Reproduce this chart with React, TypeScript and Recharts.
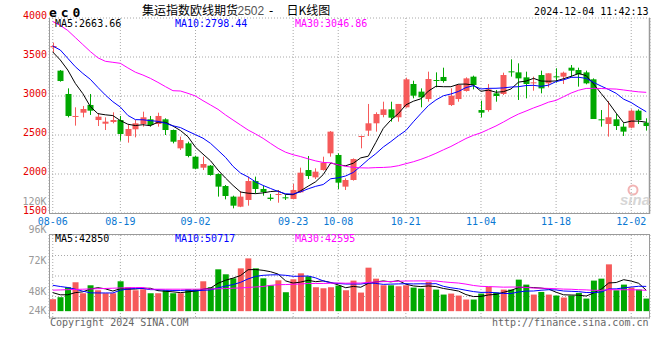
import React from 'react';
import { ComposedChart, Bar, Line, XAxis, YAxis, CartesianGrid, Cell } from 'recharts';

const dates = [
  '08-06','08-07','08-08','08-09','08-12','08-13','08-14','08-15','08-16','08-19','08-20','08-21','08-22','08-23','08-26','08-27','08-28','08-29','08-30',
  '09-02','09-03','09-04','09-05','09-06','09-09','09-10','09-11','09-12','09-13','09-18','09-19','09-20','09-23','09-24','09-25','09-26','09-27','09-30',
  '10-08','10-09','10-10','10-11','10-14','10-15','10-16','10-17','10-18','10-21','10-22','10-23','10-24','10-25','10-28','10-29','10-30','10-31',
  '11-01','11-04','11-05','11-06','11-07','11-08','11-11','11-12','11-13','11-14','11-15','11-18','11-19','11-20','11-21','11-22','11-25','11-26','11-27','11-28','11-29',
  '12-02','12-03','12-04',
];

const opens = [
  3624,3325,3026,2735,2786,2885,2692,2645,2667,2692,
  2487,2573,2641,2701,2641,2701,2564,2329,2393,2222,
  2081,2107,2000,1846,1710,1581,1667,1910,1808,1697,
  1731,1701,1680,1765,2051,1957,2051,2265,2244,1838,
  1923,2483,2556,2650,2757,2829,2727,2855,3154,3056,
  2961,3205,3244,2884,2961,3064,3248,2820,2820,3034,
  3026,3316,3303,3239,3171,3269,3162,3252,3248,3363,
  3333,3303,3214,2701,2641,2701,2607,2594,2812,2658,
];
const highs = [
  3684,3333,3098,2855,2872,3026,2778,2726,2791,2744,
  2628,2692,2799,2744,2786,2714,2570,2479,2414,2235,
  2222,2115,2009,1859,1722,1782,1966,1966,1850,1744,
  1795,1731,1872,2081,2231,2073,2222,2550,2265,1944,
  2200,2490,2898,2791,2927,2927,2898,3235,3196,3098,
  3312,3303,3363,3098,3150,3239,3261,2940,3154,3077,
  3299,3470,3419,3312,3248,3325,3291,3355,3312,3397,
  3363,3325,3226,2820,2936,2769,2650,2829,2829,2714,
];
const lows = [
  3555,3184,2726,2620,2726,2757,2615,2564,2650,2427,
  2402,2470,2607,2607,2607,2500,2393,2308,2214,2060,
  2051,1979,1710,1675,1560,1575,1594,1752,1722,1658,
  1632,1667,1675,1760,1936,1936,2043,2222,1808,1795,
  1915,2329,2487,2543,2727,2671,2671,2850,2970,2855,
  2927,3111,3171,2872,2927,3056,3085,2726,2799,2927,
  3013,3248,2949,2970,3068,3034,3111,3171,3154,3248,
  3120,3150,2705,2607,2479,2564,2487,2586,2641,2556,
];
const closes = [
  3641,3192,2744,2744,2833,2812,2735,2671,2692,2513,
  2577,2650,2727,2628,2744,2564,2414,2436,2231,2068,
  2128,1987,1838,1718,1594,1710,1910,1808,1769,1680,
  1744,1688,1795,2017,1974,2030,2145,2543,1889,1923,
  2192,2487,2650,2769,2829,2722,2898,3214,3004,2983,
  3218,3200,3192,3004,3141,3226,3141,2786,3085,3000,
  3269,3308,3226,3154,3175,3098,3291,3248,3299,3325,
  3278,3162,2705,2692,2727,2615,2543,2812,2692,2615,
];

const ma5 = [
  3564,3462,3333,3162,3031,2865,2774,2759,2749,2685,
  2638,2621,2632,2619,2665,2663,2615,2557,2478,2343,
  2255,2170,2050,1948,1853,1769,1754,1748,1758,1775,
  1782,1738,1735,1785,1844,1901,1992,2142,2116,2106,
  2138,2207,2228,2404,2585,2691,2774,2886,2933,2964,
  3063,3124,3119,3119,3151,3153,3141,3060,3076,3048,
  3056,3090,3178,3191,3226,3192,3189,3193,3222,3252,
  3288,3262,3154,3032,2913,2780,2656,2678,2678,2664,
];
const ma10 = [
  3641,3590,3483,3376,3290,3214,3111,3013,2927,2858,
  2751,2697,2695,2684,2675,2650,2618,2595,2548,2504,
  2459,2393,2304,2213,2098,2012,1962,1899,1853,1814,
  1776,1746,1742,1772,1810,1842,1865,1939,1951,1975,
  2020,2100,2185,2260,2346,2415,2490,2557,2669,2775,
  2877,2949,3003,3026,3058,3108,3132,3090,3098,3099,
  3104,3115,3119,3134,3137,3124,3139,3185,3207,3239,
  3240,3226,3174,3127,3083,3034,2959,2916,2855,2798,
];
const ma30 = [
  3955,3905,3840,3750,3660,3570,3490,3445,3432,3419,
  3360,3305,3269,3226,3175,3120,3068,3064,3034,3000,
  2940,2885,2829,2757,2692,2628,2564,2513,2457,2392,
  2329,2279,2247,2223,2194,2168,2148,2144,2117,2098,
  2085,2079,2077,2082,2084,2090,2106,2132,2157,2188,
  2224,2265,2310,2353,2404,2455,2496,2528,2572,2616,
  2667,2721,2769,2807,2847,2882,2921,2944,2991,3038,
  3074,3097,3098,3096,3092,3089,3077,3064,3053,3047,
];

const volumes = [
  24500,28600,49000,59200,36700,53000,42800,36700,36700,61200,
  49000,42800,44900,36700,36700,42800,36700,36700,44900,44900,
  61200,49000,85700,75500,67300,87700,108100,87700,67300,53000,
  63200,38800,65300,77500,71400,49000,46900,49000,52400,42800,
  62600,38100,89100,66600,53000,53000,51000,53000,48300,46200,
  59800,44200,34000,36000,32000,23800,23800,36000,50300,38100,
  44200,44200,64600,54400,34000,39400,34000,32000,27900,32000,
  37400,25800,62600,66600,95900,42800,54400,48300,44200,25800,
];
const volMa5 = [
  38000,33500,33500,38000,39600,45300,48100,45700,41200,46100,
  45300,45300,46900,46900,42000,40800,39600,37900,39600,41200,
  44900,47300,57100,63300,67700,73000,84900,85300,83600,80800,
  75900,62000,57500,59600,63200,60400,62000,58800,53700,48000,
  50700,49000,57000,59800,61900,60000,62500,55300,51700,50300,
  51700,50300,46500,44000,41200,34000,29900,30300,33200,34400,
  38500,42600,48300,49100,48300,47300,45300,38800,33500,33100,
  32700,31000,37100,44900,57700,58700,64500,61600,57100,42850,
];
const volMa10 = [
  53000,50500,48500,45000,41000,37500,37300,37300,37300,42800,
  45300,46700,46300,44100,44100,43000,42400,42400,43200,41600,
  42800,43500,47500,51400,54500,59000,66100,71200,73400,74300,
  74500,73400,71400,71600,72000,68100,62000,58100,56700,55600,
  55600,55500,57900,56800,54900,55400,55800,56200,55800,56100,
  55800,56400,50900,47900,45800,42800,40100,38400,38600,37800,
  36200,36200,39300,41100,41300,42900,43900,43500,41300,40700,
  40000,38200,38000,39200,45400,45700,47700,49400,51000,50717,
];
const volMa30 = [
  43000,43500,44000,44500,45000,45500,46000,46500,47000,47500,
  48000,48300,48500,45000,45000,45000,45000,45000,45000,45000,
  45200,45500,45800,46200,47000,47600,48500,49600,50500,52900,
  54200,54500,55100,55700,56800,56700,56800,57300,57800,57200,
  57600,57500,58900,59900,60500,60800,61300,61800,61900,62000,
  61900,61800,60100,58700,57600,55400,52600,50900,50300,49800,
  49200,49400,49400,48600,47300,47000,46600,46000,45200,44900,
  44000,43600,42700,42700,44200,43800,43900,43800,43600,42595,
];

const dateTicks = ['08-06','08-19','09-02','09-23','10-08','10-21','11-04','11-18','12-02'];
const priceTicks = [1500, 2000, 2500, 3000, 3500, 4000];
const volGridTicks = [30000, 72000, 114000];
const volAxisLabels = ['120K', '96K', '72K', '48K', '24K'];
const priceLegend = ['MA5:2663.66', 'MA10:2798.44', 'MA30:3046.86'];
const volLegend = ['MA5:42850', 'MA10:50717', 'MA30:42595'];

const RED = '#f65a5a';
const GREEN = '#00a800';
const GRID = '#a8a8a8';
const BORDER = '#9a9a9a';
const MONO = '"DejaVu Sans Mono", "Liberation Mono", monospace';
const LEG_COLORS = ['#000000', '#0000ff', '#ff00ff'];

const rows = dates.map((d, i) => ({
  i,
  date: d,
  open: opens[i],
  high: highs[i],
  low: lows[i],
  close: closes[i],
  range: [lows[i], highs[i]],
  ma5: ma5[i],
  ma10: ma10[i],
  ma30: ma30[i],
  vol: volumes[i],
  vma5: volMa5[i],
  vma10: volMa10[i],
  vma30: volMa30[i],
  up: closes[i] >= opens[i],
}));

const tickIdx = dateTicks.map((t) => dates.indexOf(t));
const xDomain = [-0.5, dates.length - 0.5];

const Candle = (props: any) => {
  const { x, y, width, height, payload } = props;
  if (x == null || y == null || !payload) return null;
  const { open, close, high, low } = payload;
  const color = close >= open ? RED : GREEN;
  const span = high - low || 1;
  const k = height / span;
  const yO = y + (high - open) * k;
  const yC = y + (high - close) * k;
  const top = Math.min(yO, yC);
  const bh = Math.max(Math.abs(yO - yC), 1);
  const cx = Math.floor(x + width / 2) + 0.5;
  const bx = Math.floor(x + width / 2) - 2.5;
  return (
    <g>
      <line x1={cx} x2={cx} y1={y} y2={y + height} stroke={color} strokeWidth={1} />
      <rect x={bx} y={top} width={6} height={bh} fill={color} />
    </g>
  );
};

const PriceTick = (p: any) => (
  <text x={p.x} y={p.y - 2.3} dy="0.36em" textAnchor="end" fill="#e60000" fontSize={10} fontFamily={MONO}>
    {p.payload.value}
  </text>
);

const DateTick = (p: any) => (
  <text x={p.x} y={p.y} dy="0.36em" textAnchor="middle" fill="#0a78d2" fontSize={10} fontFamily={MONO}>
    {dates[p.payload.value]}
  </text>
);

const volLabelY = [205.3, 233, 264.4, 294.6, 314.4];
const legendX = [55, 175, 295];

export default function App() {
  return (
    <div style={{ position: 'absolute', left: 0, top: 0, width: 660, height: 360, background: '#fff' }}>
      <div style={{ position: 'absolute', left: 0, top: 0 }}>
        <ComposedChart width={660} height={232} data={rows} margin={{ top: 18, right: 10, bottom: 0, left: 0 }}>
          <CartesianGrid stroke={GRID} strokeDasharray="1 2" />
          <XAxis
            dataKey="i"
            type="number"
            domain={xDomain}
            ticks={tickIdx}
            interval={0}
            height={19}
            axisLine={false}
            tickLine={false}
            tickSize={6}
            tickMargin={2}
            tick={<DateTick />}
            allowDataOverflow
          />
          <YAxis
            domain={[1500, 4000]}
            ticks={priceTicks}
            interval={0}
            width={49}
            axisLine={false}
            tickLine={false}
            tickSize={0}
            tickMargin={2}
            tick={<PriceTick />}
            allowDataOverflow
          />
          <Bar dataKey="range" barSize={6} isAnimationActive={false} shape={(p: any) => <Candle {...p} />} />
          <Line dataKey="ma5" type="linear" stroke="#000000" strokeWidth={1} dot={false} activeDot={false} isAnimationActive={false} />
          <Line dataKey="ma10" type="linear" stroke="#0000ff" strokeWidth={1} dot={false} activeDot={false} isAnimationActive={false} />
          <Line dataKey="ma30" type="linear" stroke="#ff00ff" strokeWidth={1} dot={false} activeDot={false} isAnimationActive={false} />
        </ComposedChart>
      </div>
      <div style={{ position: 'absolute', left: 0, top: 0 }}>
        <ComposedChart width={660} height={360} data={rows} margin={{ top: 235, right: 10, bottom: 42, left: 49 }}>
          <CartesianGrid stroke={GRID} strokeDasharray="1 2" />
          <XAxis dataKey="i" type="number" domain={xDomain} ticks={tickIdx} interval={0} hide allowDataOverflow />
          <YAxis domain={[-14000, 156000]} ticks={volGridTicks} interval={0} hide allowDataOverflow />
          <Bar dataKey="vol" barSize={6} isAnimationActive={false}>
            {rows.map((r) => (
              <Cell key={r.i} fill={r.up ? RED : GREEN} />
            ))}
          </Bar>
          <Line dataKey="vma5" type="linear" stroke="#000000" strokeWidth={1} dot={false} activeDot={false} isAnimationActive={false} />
          <Line dataKey="vma10" type="linear" stroke="#0000ff" strokeWidth={1} dot={false} activeDot={false} isAnimationActive={false} />
          <Line dataKey="vma30" type="linear" stroke="#ff00ff" strokeWidth={1} dot={false} activeDot={false} isAnimationActive={false} />
        </ComposedChart>
      </div>
      <svg width={660} height={360} style={{ position: 'absolute', left: 0, top: 0, pointerEvents: 'none' }}>
        {/* panel frames */}
        <line x1={49.5} x2={49.5} y1={18} y2={214} stroke={BORDER} />
        <line x1={649.5} x2={649.5} y1={18} y2={214} stroke={BORDER} strokeWidth={1.5} />
        <line x1={49} x2={650} y1={213.5} y2={213.5} stroke={BORDER} />
        <rect x={49.5} y={234.5} width={600} height={83.5} fill="none" stroke={BORDER} />

        {/* header */}
        <text x={49} y={16.7} fontSize={13} fontWeight="bold" fontFamily={MONO} letterSpacing={3.9} fill="#000">ec0</text>
        <text y={15.2} fontSize={12} fontFamily='"Noto Sans CJK SC", sans-serif' fill="#000">
          <tspan x={142}>集运指数欧线期货</tspan>
          <tspan x={237.5} fontFamily='"Liberation Sans", sans-serif' fill="#555">2502</tspan>
          <tspan x={267.5} fontFamily={MONO}>-</tspan>
          <tspan x={286.5}>日K线图</tspan>
        </text>
        <text x={648.5} y={15} textAnchor="end" fontSize={10} fontFamily={MONO} fill="#000">2024-12-04 11:42:13</text>
        {priceLegend.map((t, k) => (
          <text key={t} x={legendX[k]} y={27.3} fontSize={10} fontFamily={MONO} fill={LEG_COLORS[k]}>{t}</text>
        ))}

        {/* volume axis labels */}
        {volAxisLabels.map((t, k) => (
          <text key={t} x={46.5} y={volLabelY[k]} textAnchor="end" fontSize={10} fontFamily={MONO} fill="#999">{t}</text>
        ))}
        {volLegend.map((t, k) => (
          <text key={t} x={legendX[k]} y={242} fontSize={10} fontFamily={MONO} fill={LEG_COLORS[k]}>{t}</text>
        ))}

        {/* watermark */}
        <circle cx={633} cy={190} r={4.5} fill="none" stroke="#f2b4b4" strokeWidth={2} />
        <text x={620} y={205} fontSize={15} fontStyle="italic" fontWeight="bold" fontFamily='"Liberation Sans", sans-serif' fill="#d6d6d6">sina</text>

        {/* footer */}
        <text x={50} y={326} fontSize={10} fontFamily={MONO} fill="#666">Copyright 2024 SINA.COM</text>
        <text x={648.5} y={326} textAnchor="end" fontSize={10} fontFamily={MONO} fill="#666">http://finance.sina.com.cn</text>
      </svg>
    </div>
  );
}
